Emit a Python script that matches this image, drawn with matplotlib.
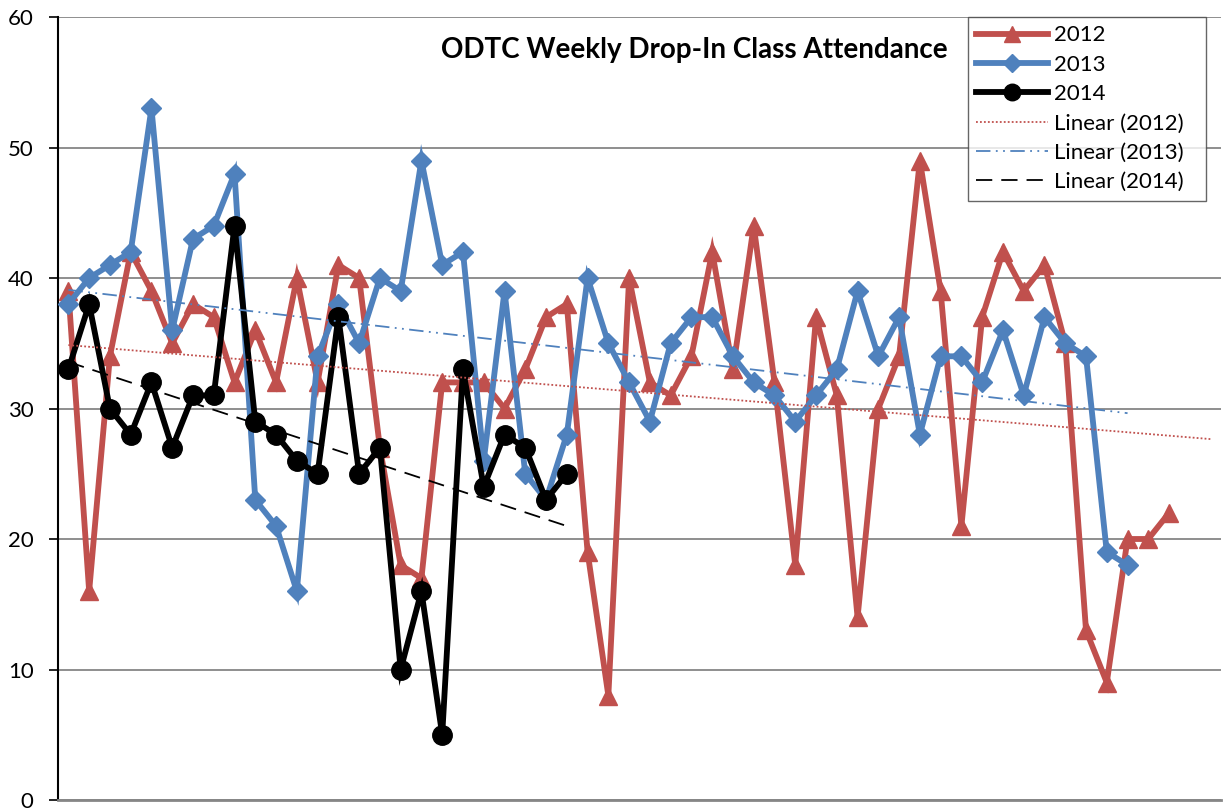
import numpy as np
import matplotlib
matplotlib.use("Agg")
import matplotlib.pyplot as plt

plt.rcParams['font.family'] = ['Lato', 'DejaVu Sans']

# ---- data ----
y2012 = [39, 16, 34, 42, 39, 35, 38, 37, 32, 36, 32, 40, 32, 41, 40, 27, 18, 17,
         32, 32, 32, 30, 33, 37, 38, 19, 8, 40, 32, 31, 34, 42, 33, 44, 32, 18,
         37, 31, 14, 30, 34, 49, 39, 21, 37, 42, 39, 41, 35, 13, 9, 20, 20, 22]
y2013 = [38, 40, 41, 42, 53, 36, 43, 44, 48, 23, 21, 16, 34, 38, 35, 40, 39, 49,
         41, 42, 26, 39, 25, 23, 28, 40, 35, 32, 29, 35, 37, 37, 34, 32, 31, 29,
         31, 33, 39, 34, 37, 28, 34, 34, 32, 36, 31, 37, 35, 34, 19, 18]
y2014 = [33, 38, 30, 28, 32, 27, 31, 31, 44, 29, 28, 26, 25, 37, 25, 27, 10, 16,
         5, 33, 24, 28, 27, 23, 25]
series_names = ["2012", "2013", "2014"]
n_categories = 56
forecast_2012 = 2
y_ticks = [0, 10, 20, 30, 40, 50, 60]
title = "ODTC Weekly Drop-In Class Attendance"

red = "#C0504D"
blue = "#4F81BD"
black = "#000000"

fig = plt.figure(figsize=(12.25, 8.08), dpi=100)
ax = fig.add_axes([58 / 1225, 8 / 808, (1221 - 58) / 1225, (800 - 17) / 808])

def xs(vals):
    return np.arange(1, len(vals) + 1)

l12, = ax.plot(xs(y2012), y2012, color=red, lw=4.2, marker="^", ms=13,
               label=series_names[0], zorder=3, solid_joinstyle="miter")
l13, = ax.plot(xs(y2013), y2013, color=blue, lw=4.2, marker="D", ms=10.5,
               label=series_names[1], zorder=4, solid_joinstyle="miter")
l14, = ax.plot(xs(y2014), y2014, color=black, lw=4.2, marker="o", ms=14,
               label=series_names[2], zorder=5, solid_joinstyle="miter")

def trend(vals, fwd=0):
    x = xs(vals)
    m, b = np.polyfit(x, vals, 1)
    xx = np.array([1, len(vals) + fwd])
    return xx, m * xx + b

tx, ty = trend(y2012, forecast_2012)
t12, = ax.plot(tx, ty, color=red, lw=1.3, linestyle=(0, (1, 1.2)),
               label="Linear (2012)", zorder=6)
tx, ty = trend(y2013)
t13, = ax.plot(tx, ty, color=blue, lw=1.3,
               linestyle=(0, (8, 3, 1, 3, 1, 3)),
               label="Linear (2013)", zorder=6)
tx, ty = trend(y2014)
t14, = ax.plot(tx, ty, color=black, lw=1.3, linestyle=(0, (9, 5)),
               label="Linear (2014)", zorder=6)

ax.set_xlim(0.5, n_categories + 0.5)
ax.set_ylim(0, 60)
ax.set_yticks(y_ticks)
ax.set_xticks([])
ax.yaxis.grid(True, color="#868686", lw=1.3)
ax.set_axisbelow(True)
for s in ["top", "right"]:
    ax.spines[s].set_visible(False)
ax.spines["left"].set_color("black")
ax.spines["left"].set_linewidth(1.5)
ax.spines["bottom"].set_color("#868686")
ax.spines["bottom"].set_linewidth(2)
ax.tick_params(axis="y", direction="out", length=6.5, width=1.2,
               labelsize=16, pad=11, colors="black")

ax.text((694 - 58) / (1221 - 58), (800 - 50) / 783, title,
        transform=ax.transAxes, ha="center", va="center",
        fontsize=20, fontweight="bold")

leg = ax.legend(handles=[l12, l13, l14, t12, t13, t14],
                loc="upper left",
                bbox_to_anchor=((968 - 58) / (1221 - 58), 1.0,
                                (1206 - 968) / (1221 - 58), 0),
                mode="expand",
                fontsize=16, frameon=True, fancybox=False,
                handlelength=3.2, handletextpad=0.3, labelspacing=0.42,
                borderpad=0.38, borderaxespad=0)
leg.get_frame().set_edgecolor("#404040")
leg.get_frame().set_linewidth(1.0)
for h in leg.legend_handles:
    try:
        h.set_markersize(h.get_markersize() * 0.85)
    except Exception:
        pass

fig.savefig("out.png", dpi=100)
